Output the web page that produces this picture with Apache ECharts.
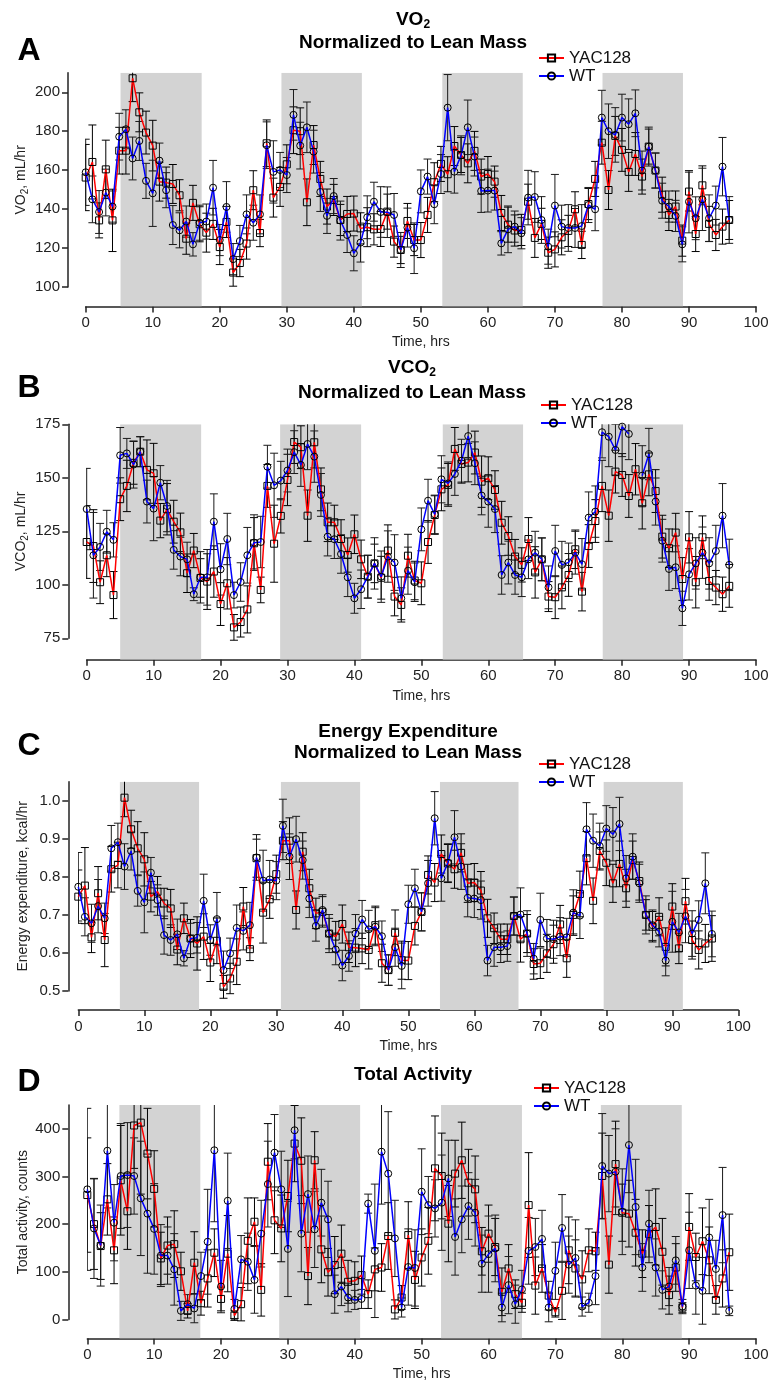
<!DOCTYPE html>
<html><head><meta charset="utf-8">
<script src="https://cdn.jsdelivr.net/npm/echarts@6/dist/echarts.min.js"></script>
<style>html,body{margin:0;padding:0;background:#fff}#c{width:772px;height:1384px}</style>
</head><body><div id="c"></div>
<script>
const hours = [0,1,2,3,4,5,6,7,8,9,10,11,12,13,14,15,16,17,18,19,20,21,22,23,24,25,26,27,28,29,30,31,32,33,34,35,36,37,38,39,40,41,42,43,44,45,46,47,48,49,50,51,52,53,54,55,56,57,58,59,60,61,62,63,64,65,66,67,68,69,70,71,72,73,74,75,76,77,78,79,80,81,82,83,84,85,86,87,88,89,90,91,92,93,94,95,96];
const seriesNames = ['YAC128', 'WT'];
const xTicks = [0,10,20,30,40,50,60,70,80,90,100];

// Panel A: VO2
const A_yac = [156.2,164.2,134.2,160.4,134.2,170,170,207.2,189.7,179.3,
 172.6,154.1,153.6,152.9,147.1,124.8,143.2,132.2,127.9,132.4,
 120.5,133.4,107.4,112.3,122.3,149.7,127.7,173.8,145.9,151.4,
 163,180.5,180,143.5,172.9,155.5,141.3,144.7,134.4,137.5,
 137.7,130.1,130.7,129.6,129.8,138.7,123.3,119,133.9,124.1,
 124.1,137,153.8,163.2,157.9,172.4,167.8,163.5,169.9,156.7,
 158,154.1,138,132,129,129.3,143.8,125.2,132.4,117.6,
 119.3,125.5,128.8,139.9,121.6,142.6,155.5,174.1,149.8,177.6,
 170.4,159.1,168.3,156.7,172.1,159.8,147.4,137,141.3,123.8,
 149,127.2,152.2,132.4,126.7,131,134.4];
const A_yac_err = [17,19,9,15,16,12,12,12,10,11,13,10,8,10,8,8,9,9,10,8,9,8,7,7,8,10,7,12,10,10,10,12,12,12,10,9,9,8,8,9,9,8,10,8,9,9,8,7,9,8,9,9,10,9,9,10,9,10,10,9,9,8,9,9,8,8,9,10,8,8,9,9,8,9,7,8,9,11,10,10,11,10,11,9,9,9,9,8,8,8,10,9,10,9,8,9,10];
const A_wt = [158.9,145,138.5,148.5,141.3,177.2,181,166,175,154.5,
 148.1,164.9,149.7,131.8,129.1,133.6,121.9,133,133.6,151,
 124.1,141.1,114.3,123.6,137.3,133,137.3,172.8,159.1,160.1,
 157.5,188.4,172.6,182,169.5,148.8,136.5,146.7,134.1,126.7,
 117.3,122.8,135.8,143.8,138.5,138.4,137,119,130.5,119.9,
 149.1,156.7,142.5,158,192.1,159.2,167.6,182,167,149.3,
 149.5,149.5,122.4,129.6,131,127.6,145.9,146.2,134.4,120.7,
 141.8,131,130.3,130.3,131.3,142.1,139.9,187,180,178.1,
 187,183.6,189.2,159.8,172.1,159.8,144.3,141.3,136.5,121.9,
 143.8,135.3,145,135.3,141.8,161.8,134.4];
const A_wt_err = [17,12,11,12,8,12,10,11,10,9,17,9,9,10,9,8,6,9,9,14,8,13,8,8,10,9,10,12,16,9,9,13,12,13,11,10,9,9,10,9,9,10,11,10,13,13,11,9,10,13,11,9,10,10,17,11,10,14,10,11,11,10,6,12,8,8,14,13,12,9,16,11,12,10,11,9,11,14,14,14,12,13,12,10,10,9,9,8,8,9,16,11,16,12,10,15,12];
const A_ticks = [100,120,140,160,180,200];
const A_bands = [[5.2,17.3],[29.2,41.2],[53.2,65.2],[77.1,89.1]];

// Panel B: VCO2
const B_yac = [120,118.1,101.2,113.8,95.2,140,146.2,157,162.2,153.7,
 152.1,130,135.3,129.5,124.5,105.4,116,103.2,101.5,106.2,
 91,100.7,80.1,82.6,88.5,119.4,97.6,146.2,119.2,132.2,
 149,166.7,164.3,132.3,166.6,144.6,129.2,129.2,121.4,113.9,
 123.6,111.9,103.8,110,103.3,116,94.5,90.6,113.6,102,
 100.7,120,132.6,144.6,146.7,163.5,156.5,157.1,161.8,148.2,
 149.8,144.3,129,122.8,113.2,109.3,121.4,105.8,111.9,94.5,
 94.2,98.8,104.6,116.6,96.8,118.1,129.8,146.2,132.3,152.9,
 151.3,141.5,154,138.1,151.6,143.8,122.5,117.1,124.4,102.7,
 122.2,101.2,122.2,101.8,98.7,95.6,99.5];
const B_yac_err = [17,17,10,10,11,10,12,10,7,14,14,8,12,10,9,9,8,9,13,12,10,12,6,7,11,12,6,10,18,8,12,10,10,12,12,10,9,8,9,8,9,9,10,9,10,12,9,8,10,9,10,10,9,10,10,10,9,9,10,12,10,9,10,9,8,8,10,12,10,7,10,10,10,9,9,10,10,12,12,10,10,10,12,12,10,10,10,9,9,10,12,12,10,9,8,8,10];
const B_wt = [135.4,113.8,117.7,124.8,121,160.5,161.4,156.2,162.2,138.9,
 135.6,147.7,136.8,116.3,113.2,111.9,95.6,103.5,103.5,129.5,
 107.2,121.4,95.2,101.3,113.8,119.7,120,155.2,146.5,148.7,
 153.4,162,156,165.8,159.9,142,122.5,121.3,114.4,103.5,
 93.7,97.9,103.8,110,103.8,113.2,110.4,93.7,106.6,101.2,
 125.9,139.3,132.9,149.3,147.4,151.8,158,169.5,156.8,141.7,
 138.9,135.4,104.6,110.4,104.6,103.5,111.9,115,111.9,98.8,
 115.8,109.3,110.5,115,109.6,131.4,134.2,171.3,169.2,163,
 173.9,170.5,null,151,161.1,138.9,120.6,107.4,108.2,89,
 104.9,110,115,110,115.8,132.3,109.3];
const B_wt_err = [19,20,11,10,8,13,7,11,7,10,15,8,12,9,9,8,3,12,13,13,12,12,6,9,13,13,12,10,15,9,10,10,10,12,12,10,9,9,9,9,7,9,10,12,12,12,13,10,11,9,10,10,9,11,10,10,10,10,10,9,12,11,9,10,9,9,9,10,10,10,12,11,9,10,12,12,12,12,14,12,14,12,0,14,12,11,10,10,10,8,12,12,12,12,12,15,12];
const B_ticks = [75,100,125,150,175];
const B_bands = [[5.0,17.1],[28.9,41.0],[53.2,65.2],[77.1,89.1]];

// Panel C: Energy expenditure
const C_yac = [0.748,0.777,0.641,0.757,0.634,0.820,0.831,1.008,0.925,0.875,
 0.846,0.748,0.761,0.730,0.717,0.609,0.691,0.638,0.625,0.643,
 0.575,0.632,0.511,0.533,0.577,0.722,0.610,0.849,0.706,0.741,
 0.807,0.895,0.895,0.713,0.866,0.770,0.704,0.708,0.651,0.643,
 0.676,0.615,0.614,0.612,0.608,0.673,0.573,0.555,0.653,0.581,
 0.580,0.671,0.708,0.805,0.785,0.860,0.835,0.820,0.863,0.783,
 0.785,0.764,0.691,0.665,0.636,0.636,0.697,0.636,0.651,0.571,
 0.573,0.599,0.623,0.675,0.586,0.700,0.755,0.849,0.737,0.868,
 0.837,0.783,0.834,0.770,0.844,0.789,0.700,0.669,0.695,0.616,
 0.722,0.612,0.736,0.634,0.608,0.625,0.638];
const C_yac_err = [0.07,0.10,0.04,0.07,0.07,0.06,0.06,0.05,0.05,0.07,0.07,0.04,0.04,0.04,0.05,0.04,0.04,0.05,0.07,0.06,0.05,0.06,0.03,0.04,0.06,0.05,0.03,0.05,0.08,0.05,0.05,0.05,0.06,0.05,0.05,0.05,0.04,0.04,0.04,0.04,0.05,0.04,0.05,0.04,0.05,0.05,0.05,0.04,0.06,0.05,0.05,0.05,0.05,0.05,0.05,0.05,0.05,0.05,0.05,0.05,0.05,0.05,0.05,0.04,0.04,0.04,0.05,0.06,0.05,0.04,0.04,0.05,0.05,0.05,0.05,0.05,0.06,0.07,0.06,0.05,0.06,0.05,0.06,0.05,0.05,0.05,0.04,0.04,0.05,0.05,0.06,0.04,0.06,0.05,0.05,0.05,0.06];
const C_wt = [0.774,0.695,0.678,0.723,0.691,0.875,0.891,0.827,0.868,0.763,
 0.733,0.811,0.739,0.647,0.634,0.649,0.586,0.638,0.640,0.737,
 0.634,0.689,0.555,0.599,0.666,0.658,0.673,0.851,0.790,0.793,
 0.790,0.934,0.853,0.899,0.844,0.743,0.671,0.713,0.651,0.609,
 0.567,0.592,0.651,0.688,0.662,0.669,0.644,0.555,0.615,0.566,
 0.728,0.770,0.708,0.783,0.954,0.796,0.837,0.904,0.827,0.745,
 0.743,0.739,0.580,0.615,0.615,0.618,0.697,0.701,0.651,0.585,
 0.687,0.638,0.636,0.643,0.641,0.706,0.698,0.925,0.895,0.881,
 0.927,0.912,0.939,0.796,0.853,0.783,0.700,0.673,0.656,0.580,
 0.682,0.654,0.697,0.651,0.687,0.783,0.650];
const C_wt_err = [0.09,0.05,0.05,0.07,0.04,0.06,0.05,0.06,0.05,0.04,0.08,0.04,0.04,0.05,0.04,0.04,0.02,0.04,0.04,0.07,0.04,0.07,0.05,0.04,0.06,0.05,0.06,0.06,0.08,0.05,0.05,0.07,0.06,0.06,0.05,0.05,0.04,0.04,0.05,0.04,0.04,0.04,0.05,0.05,0.05,0.05,0.04,0.04,0.05,0.06,0.05,0.05,0.05,0.06,0.07,0.06,0.05,0.07,0.06,0.05,0.05,0.05,0.04,0.05,0.04,0.04,0.05,0.07,0.06,0.04,0.07,0.05,0.05,0.05,0.05,0.06,0.06,0.07,0.07,0.06,0.06,0.07,0.07,0.06,0.06,0.05,0.05,0.04,0.04,0.04,0.08,0.05,0.07,0.06,0.05,0.08,0.06];
const C_ticks = [0.5,0.6,0.7,0.8,0.9,1.0];
const C_bands = [[6.3,18.3],[30.7,42.7],[54.8,66.7],[79.6,91.6]];

// Panel D: Total activity
const D_yac = [261,200,154,252,145,292,227,407,413,348,
 274,128,155,158,101,18,119,34,86,140,
 43,138,8,32,165,205,62,331,208,191,
 259,369,333,91,334,147,99,114,138,79,
 81,93,53,105,109,175,21,46,177,83,
 130,165,317,301,201,306,334,287,273,143,
 180,152,58,107,53,35,240,71,107,50,
 15,60,145,107,84,145,143,301,115,326,
 224,222,182,138,179,194,142,51,109,25,
 194,131,164,124,41,86,141];
const D_yac_err = [120,95,70,75,70,115,80,90,150,95,80,55,60,70,40,15,65,25,60,50,25,80,10,35,90,50,55,80,70,70,75,80,90,60,60,70,50,60,60,45,40,40,30,45,50,70,20,25,70,60,60,70,110,90,80,70,80,70,70,50,60,60,50,50,30,20,110,60,50,30,10,60,70,60,60,45,40,90,60,90,60,70,70,50,60,80,70,40,50,10,70,50,70,70,30,60,80];
const D_wt = [273,191,155,354,203,301,303,301,254,222,
 190,134,134,105,18,32,23,91,163,355,
 69,249,22,126,121,83,180,284,350,273,
 148,397,180,263,189,245,210,53,69,46,
 41,43,243,144,352,306,170,25,110,108,
 268,240,233,245,296,173,210,238,224,117,
 137,149,25,72,32,63,144,152,169,25,
 102,192,115,129,27,35,91,322,306,310,
 226,366,236,109,201,109,62,69,124,27,
 145,71,60,172,106,219,18];
const D_wt_err = [170,105,85,120,80,110,110,80,120,125,95,65,60,75,20,20,30,50,110,150,55,100,20,50,60,70,70,90,80,80,100,60,80,80,80,70,80,40,40,30,20,20,20,140,110,130,80,20,80,80,90,60,60,100,80,80,70,70,70,60,80,70,30,60,40,40,70,60,60,30,60,70,60,80,20,20,60,110,80,90,90,100,100,50,70,60,40,40,50,15,80,60,70,80,60,100,10];
const D_ticks = [0,100,200,300,400];
const D_bands = [[4.8,16.9],[28.7,40.8],[52.9,65.0],[76.8,88.9]];

const FONT = '"Liberation Sans", Arial, Helvetica, sans-serif';
const subRich = {n:{fontSize:14, fontFamily:FONT, color:'#222'}, s:{fontSize:10, fontFamily:FONT, color:'#222', padding:[8,0,0,0]}};

const panels = [
 {x0:85.7, x100:756, yMin:90, yMax:210, top:72.8, ppu:1.947, aMax:210, ticks:A_ticks, yx:68,
  yac:A_yac, yacErr:A_yac_err, wt:A_wt, wtErr:A_wt_err, bands:A_bands, yname:'{n|VO}{s|2}{n|, mL/hr}', dec:0, legTop:49.5, legLeft:538},
 {x0:86.7, x100:756, yMin:65, yMax:175, top:424.3, ppu:2.14, aMax:175, ticks:B_ticks, yx:68.3,
  yac:B_yac, yacErr:B_yac_err, wt:B_wt, wtErr:B_wt_err, bands:B_bands, yname:'{n|VCO}{s|2}{n|, mL/hr}', dec:0, legTop:396.5, legLeft:540},
 {x0:78.3, x100:738.3, yMin:0.45, yMax:1.05, top:781.7, ppu:380.6, aMax:1.05, ticks:C_ticks, yx:68.3,
  yac:C_yac, yacErr:C_yac_err, wt:C_wt, wtErr:C_wt_err, bands:C_bands, yname:'{n|Energy expenditure, kcal/hr}', dec:1, legTop:755.5, legLeft:538},
 {x0:87.3, x100:756, yMin:-40, yMax:450, top:1105, ppu:0.4765, aMax:450, ticks:D_ticks, yx:68.3,
  yac:D_yac, yacErr:D_yac_err, wt:D_wt, wtErr:D_wt_err, bands:D_bands, yname:'{n|Total activity, counts}', dec:0, legTop:1079.5, legLeft:533}
];

const grids = [], xAxes = [], yAxes = [], series = [], legends = [];
const axisCol = '#222';

function errSeries(ax, vals, errs, color, z) {
  const data = [];
  hours.forEach((h, i) => { if (vals[i] != null) data.push([h, vals[i] - errs[i], vals[i] + errs[i]]); });
  return {
    type:'custom', xAxisIndex:ax, yAxisIndex:ax, clip:true, z:z, silent:true, data:data,
    encode:{x:0, y:[1,2]},
    renderItem:(params, api) => {
      const x = api.value(0), lo = api.value(1), hi = api.value(2);
      const p1 = api.coord([x, lo]), p2 = api.coord([x, hi]);
      const st = {stroke:color, lineWidth:1};
      return {type:'group', children:[
        {type:'line', shape:{x1:p1[0], y1:p1[1], x2:p2[0], y2:p2[1]}, style:st},
        {type:'line', shape:{x1:p1[0]-4, y1:p1[1], x2:p1[0]+4, y2:p1[1]}, style:st},
        {type:'line', shape:{x1:p2[0]-4, y1:p2[1], x2:p2[0]+4, y2:p2[1]}, style:st}
      ]};
    }
  };
}

panels.forEach((p, k) => {
  const gi = 2*k, gd = 2*k+1;
  const height = (p.yMax - p.yMin) * p.ppu;
  const aMin = p.ticks[0];
  const aTop = p.top + (p.yMax - p.aMax) * p.ppu;
  const aHeight = (p.aMax - aMin) * p.ppu;
  grids.push({left:p.x0, top:p.top, width:p.x100 - p.x0, height:height, outerBoundsMode:'none', containLabel:false});
  grids.push({left:p.yx, top:aTop, width:10, height:aHeight, outerBoundsMode:'none', containLabel:false});
  xAxes.push({
    gridIndex:gi, type:'value', min:0, max:100, interval:10, position:'bottom',
    name:'Time, hrs', nameLocation:'middle', nameGap:29,
    nameTextStyle:{fontSize:14, fontFamily:FONT, color:'#222'},
    axisLine:{show:true, onZero:false, lineStyle:{color:axisCol, width:1.5}},
    axisTick:{show:true, length:6, lineStyle:{color:axisCol, width:1.5}},
    axisLabel:{show:true, margin:9, fontSize:15, fontFamily:FONT, color:'#222'},
    splitLine:{show:false}
  });
  xAxes.push({gridIndex:gd, type:'value', min:0, max:1, show:false});
  yAxes.push({gridIndex:gi, type:'value', min:p.yMin, max:p.yMax, show:false, splitLine:{show:false}});
  yAxes.push({
    gridIndex:gd, type:'value', min:aMin, max:p.aMax, position:'left',
    name:p.yname, nameLocation:'middle', nameGap:38, nameRotate:90,
    nameTextStyle:{fontSize:14, fontFamily:FONT, color:'#222', rich:subRich},
    axisLine:{show:true, onZero:false, lineStyle:{color:axisCol, width:1.5}},
    axisTick:{show:true, length:6, customValues:p.ticks, lineStyle:{color:axisCol, width:1.5}},
    axisLabel:{show:true, margin:8, fontSize:15, fontFamily:FONT, color:'#222', customValues:p.ticks,
      formatter:(v) => p.ticks.some(t => Math.abs(t - v) < 1e-9) ? (p.dec ? Number(v).toFixed(p.dec) : String(v)) : ''},
    splitLine:{show:false}
  });
  // bands
  series.push({
    type:'custom', xAxisIndex:gi, yAxisIndex:gi, z:1, silent:true, clip:true,
    data:p.bands.map(b => [b[0], b[1], p.yMin, p.yMax]),
    encode:{x:[0,1], y:[2,3]},
    renderItem:(params, api) => {
      const a = api.coord([api.value(0), api.value(3)]);
      const b = api.coord([api.value(1), api.value(2)]);
      return {type:'rect', shape:{x:a[0], y:a[1], width:b[0]-a[0], height:b[1]-a[1]}, style:{fill:'#d3d3d3'}};
    }
  });
  series.push(errSeries(gi, p.yac, p.yacErr, '#000', 2));
  series.push(errSeries(gi, p.wt, p.wtErr, '#1a1a1a', 2));
  series.push({
    name:seriesNames[0], type:'line', xAxisIndex:gi, yAxisIndex:gi, z:3,
    data:hours.map((h, i) => [h, p.yac[i]]),
    symbol:'rect', symbolSize:7, showAllSymbol:true, connectNulls:false,
    lineStyle:{color:'#ff0000', width:1.5},
    itemStyle:{color:'rgba(255,255,255,0)', borderColor:'#000', borderWidth:1},
    emphasis:{disabled:true}, animation:false
  });
  series.push({
    name:seriesNames[1], type:'line', xAxisIndex:gi, yAxisIndex:gi, z:4,
    data:hours.map((h, i) => [h, p.wt[i]]),
    symbol:'circle', symbolSize:7, showAllSymbol:true, connectNulls:false,
    lineStyle:{color:'#0000ff', width:1.5},
    itemStyle:{color:'rgba(255,255,255,0)', borderColor:'#000', borderWidth:1},
    emphasis:{disabled:true}, animation:false
  });
  legends.push({
    left:p.legLeft, top:p.legTop, orient:'vertical', itemWidth:25, itemHeight:9, itemGap:1, padding:0,
    selectedMode:false, data:seriesNames,
    textStyle:{fontSize:17, fontFamily:FONT, color:'#111', lineHeight:17}
  });
});

function txt(x, y, text, size, bold, rich) {
  const st = {text:text, x:x, y:y, textAlign:'center', textVerticalAlign:'middle', align:'center', verticalAlign:'middle',
    font:(bold ? 'bold ' : '') + size + 'px ' + FONT, fill:'#000'};
  if (rich) st.rich = rich;
  return {type:'text', silent:true, style:st};
}
const titleRich = {b:{fontSize:19, fontWeight:'bold', fontFamily:FONT, color:'#000'}, s:{fontSize:12, fontWeight:'bold', fontFamily:FONT, color:'#000', padding:[10,0,0,0]}};
const graphics = [
  txt(413, 20, '{b|VO}{s|2}', 19, true, titleRich),
  txt(413, 43, 'Normalized to Lean Mass', 19, true),
  txt(412, 368, '{b|VCO}{s|2}', 19, true, titleRich),
  txt(412, 393, 'Normalized to Lean Mass', 19, true),
  txt(408, 731.7, 'Energy Expenditure', 19, true),
  txt(408, 752.7, 'Normalized to Lean Mass', 19, true),
  txt(413, 1075, 'Total Activity', 19, true),
  txt(29, 51.5, 'A', 32, true),
  txt(29, 388, 'B', 32, true),
  txt(29, 746, 'C', 32, true),
  txt(29, 1082, 'D', 32, true)
];

const chart = echarts.init(document.getElementById('c'), null, {renderer:'canvas'});
chart.setOption({
  animation:false,
  backgroundColor:'#fff',
  grid:grids, xAxis:xAxes, yAxis:yAxes, series:series, legend:legends,
  graphic:graphics
});
</script></body></html>
